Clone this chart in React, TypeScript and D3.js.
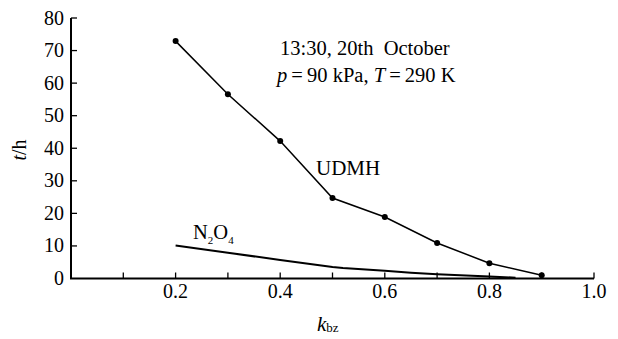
import { useEffect, useRef } from "react"
import * as d3 from "d3"

const udmhK = [0.2, 0.3, 0.4, 0.5, 0.6, 0.7, 0.8, 0.9]
const udmhT = [72.9, 56.6, 42.2, 24.7, 18.9, 10.9, 4.7, 1.0]

const n2o4K = [0.2, 0.3, 0.4, 0.5, 0.52, 0.6, 0.65, 0.7, 0.8, 0.85]
const n2o4T = [10.1, 7.9, 5.7, 3.5, 3.2, 2.4, 1.8, 1.3, 0.6, 0.25]

const xTicks = [0.2, 0.4, 0.6, 0.8, 1.0]
const xMinor = [0.1, 0.3, 0.5, 0.7, 0.9]
const yTicks = [0, 10, 20, 30, 40, 50, 60, 70, 80]

const FONT = "'Liberation Serif', 'DejaVu Serif', serif"

export default function App() {
  const svgRef = useRef<SVGSVGElement>(null)

  useEffect(() => {
    if (!svgRef.current) return
    const svg = d3.select(svgRef.current)
    svg.selectAll("*").remove()

    const x = d3.scaleLinear().domain([0, 1]).range([71, 594])
    const y = d3.scaleLinear().domain([0, 80]).range([278.5, 18])

    const g = svg.append("g").style("font-family", FONT)

    // axes lines
    g.append("line").attr("x1", x(0) - 1).attr("x2", x(1)).attr("y1", y(0)).attr("y2", y(0))
      .attr("stroke", "#000").attr("stroke-width", 2)
    g.append("line").attr("x1", x(0)).attr("x2", x(0)).attr("y1", y(0)).attr("y2", y(80))
      .attr("stroke", "#000").attr("stroke-width", 2)

    // x ticks (inward)
    ;[...xTicks, ...xMinor].forEach((t) => {
      g.append("line").attr("x1", x(t)).attr("x2", x(t)).attr("y1", y(0)).attr("y2", y(0) - 6)
        .attr("stroke", "#000").attr("stroke-width", 1.3)
    })
    xTicks.forEach((t) => {
      g.append("text").attr("x", x(t)).attr("y", 298).attr("text-anchor", "middle")
        .style("font-size", "20px").text(t.toFixed(1))
    })

    // y ticks
    yTicks.forEach((t) => {
      if (t > 0) {
        g.append("line").attr("x1", x(0)).attr("x2", x(0) + 6).attr("y1", y(t)).attr("y2", y(t))
          .attr("stroke", "#000").attr("stroke-width", 1.3)
      }
      g.append("text").attr("x", 64).attr("y", y(t) + 6.5).attr("text-anchor", "end")
        .style("font-size", "20px").text(t)
    })

    // axis titles
    const yt = g.append("text").attr("transform", "translate(26,150) rotate(-90)")
      .attr("text-anchor", "middle").style("font-size", "20px")
    yt.append("tspan").style("font-style", "italic").text("t")
    yt.append("tspan").text("/h")

    const xt = g.append("text").attr("x", 317).attr("y", 331).style("font-size", "21px")
    xt.append("tspan").style("font-style", "italic").text("k")
    xt.append("tspan").style("font-size", "13px").attr("dy", 1).text("bz")

    const line = d3.line<[number, number]>().x((d) => x(d[0])).y((d) => y(d[1]))

    const udmh: [number, number][] = udmhK.map((k, i) => [k, udmhT[i]])
    const n2o4: [number, number][] = n2o4K.map((k, i) => [k, n2o4T[i]])

    g.append("path").attr("d", line(udmh)).attr("fill", "none").attr("stroke", "#000").attr("stroke-width", 1.5)
    g.selectAll(".pt").data(udmh).enter().append("circle")
      .attr("cx", (d) => x(d[0])).attr("cy", (d) => y(d[1])).attr("r", 3).attr("fill", "#000")

    g.append("path").attr("d", line(n2o4)).attr("fill", "none").attr("stroke", "#000").attr("stroke-width", 2)

    // annotations
    g.append("text").attr("x", 280).attr("y", 55).style("font-size", "20.5px")
      .text("13:30, 20th\u00a0 October")
    const cond = g.append("text").attr("x", 277).attr("y", 82).style("font-size", "20.5px")
    cond.append("tspan").style("font-style", "italic").text("p")
    cond.append("tspan").text("\u2009=\u200990 kPa, ")
    cond.append("tspan").style("font-style", "italic").text("T")
    cond.append("tspan").text("\u2009=\u2009290 K")

    g.append("text").attr("x", 316).attr("y", 175).style("font-size", "21px").text("UDMH")

    const n = g.append("text").attr("x", 193).attr("y", 239).style("font-size", "20.5px")
    n.append("tspan").text("N")
    n.append("tspan").style("font-size", "11px").attr("dy", 5).text("2")
    n.append("tspan").attr("dy", -5).text("O")
    n.append("tspan").style("font-size", "11px").attr("dy", 5).text("4")
  }, [])

  return (
    <svg ref={svgRef} width={618} height={339}
      style={{ position: "absolute", left: 0, top: 0, background: "#fff" }} />
  )
}
